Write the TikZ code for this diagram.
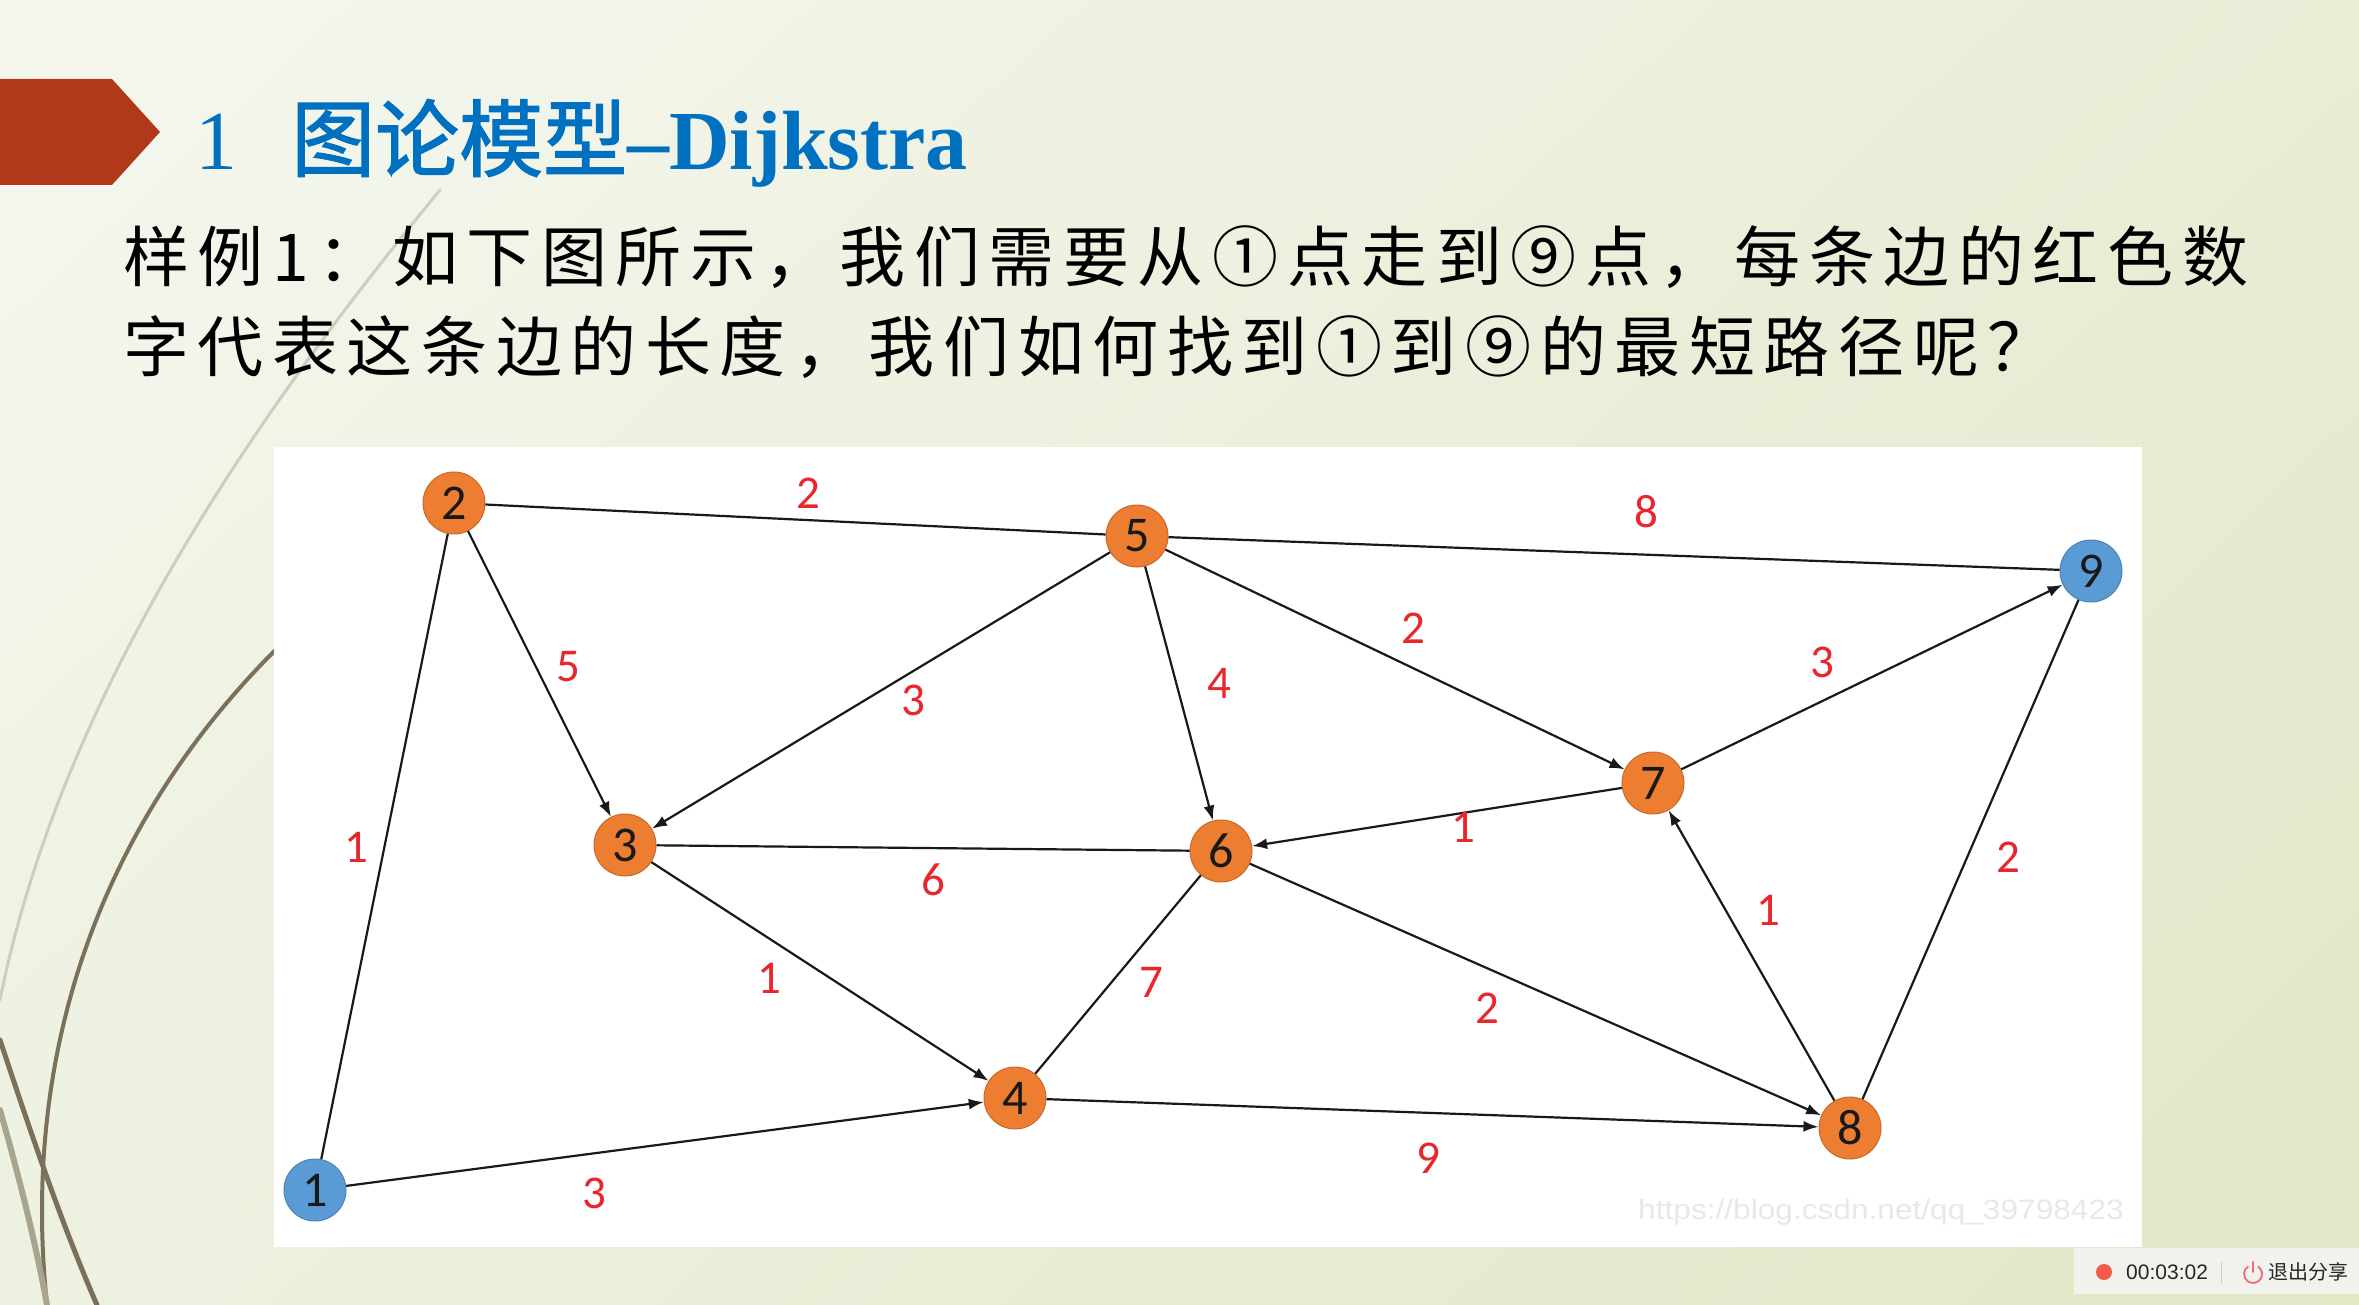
\documentclass[tikz,border=0pt]{standalone}
\usepackage{fontspec}
\setmainfont{Liberation Serif}
\newfontfamily\cjk{Noto Sans CJK SC}
\newfontfamily\cjktitle[FakeBold=1.6]{Noto Sans CJK SC}
\newfontfamily\cjkbody[LetterSpace=13]{Noto Sans CJK SC}
\newfontfamily\calib{Carlito}
\newfontfamily\arialf{Liberation Sans}
\usetikzlibrary{arrows.meta,shadings}

\definecolor{bgUL}{HTML}{F5F7EF}
\definecolor{bgUR}{HTML}{E8EDD6}
\definecolor{bgLL}{HTML}{EDF1E0}
\definecolor{bgLR}{HTML}{E0E8C6}
\definecolor{rust}{HTML}{B0391A}
\definecolor{titleblue}{HTML}{0070C0}
\definecolor{nodeorange}{HTML}{ED7D31}
\definecolor{nodeblue}{HTML}{5B9BD5}
\definecolor{labred}{HTML}{E8262B}
\definecolor{wispdark}{HTML}{7B705A}
\definecolor{wisplight}{HTML}{CACFC0}
\definecolor{wispmid}{HTML}{A8A48E}
\definecolor{barbg}{HTML}{F1F2EE}
\definecolor{recred}{HTML}{F25A4A}
\definecolor{pwpink}{HTML}{F06A7A}

\begin{document}
\begin{tikzpicture}[x=1pt,y=-1pt,
  vert/.style={circle, minimum size=62pt, inner sep=0pt, line width=1pt,
    font=\calib\fontsize{50}{50}\selectfont, text=black!90},
  orng/.style={vert, fill=nodeorange, draw=nodeorange!85!black},
  blu/.style={vert, fill=nodeblue, draw=nodeblue!85!black},
  link/.style={line width=2.2pt, draw=black!90},
  dlink/.style={link, -{Latex[length=15pt,width=11pt]}},
  wlab/.style={text=labred, font=\calib\fontsize{47}{47}\selectfont, inner sep=0pt},
  wisp/.style={line cap=round},
]
\useasboundingbox (0,0) rectangle (2359,1305);

% slide background
\shade[upper left=bgUL, upper right=bgUR, lower left=bgLL, lower right=bgLR]
  (0,0) rectangle (2359,1305);

% theme curves on the left
\draw[wisp, wisplight, line width=3pt] (440,190) .. controls (250,420) and (60,700) .. (0,1000);
\draw[wisp, wispdark, line width=4pt] (330,600) .. controls (140,760) and (15,1000) .. (47,1305);
\draw[wisp, wispdark, line width=5pt] (0,1040) .. controls (30,1130) and (60,1220) .. (97,1305);
\draw[wisp, wispmid, line width=6pt] (0,1110) .. controls (20,1180) and (35,1240) .. (47,1305);

% graph panel
\fill[white] (274,447) rectangle (2142,1247);

% title marker
\fill[rust] (0,79) -- (112,79) -- (160,132) -- (112,185) -- (0,185) -- cycle;

% title and question
\node[anchor=base west, inner sep=0pt, text=titleblue,
  font=\fontsize{84}{84}\selectfont] (title) at (195,170)
  {1\hspace{54pt}{\cjktitle 图论模型}\textbf{–Dijkstra}};
\node[anchor=base west, inner sep=0pt, font=\cjkbody\fontsize{66}{66}\selectfont]
  (line1) at (123,282) {样例1：如下图所示，我们需要从①点走到⑨点，每条边的红色数};
\node[anchor=base west, inner sep=0pt, font=\cjkbody\fontsize{66}{66}\selectfont]
  (line2) at (123,372) {字代表这条边的长度，我们如何找到①到⑨的最短路径呢？};

% vertices
\node[blu]  (n1) at (315,1190) {1};
\node[orng] (n2) at (454,503)  {2};
\node[orng] (n3) at (625,845)  {3};
\node[orng] (n4) at (1015,1098) {4};
\node[orng] (n5) at (1137,536) {5};
\node[orng] (n6) at (1221,851) {6};
\node[orng] (n7) at (1653,783) {7};
\node[orng] (n8) at (1850,1128) {8};
\node[blu]  (n9) at (2091,571) {9};

% edges
\draw[link]  (n1) -- (n2);
\draw[link]  (n2) -- (n5);
\draw[dlink] (n2) -- (n3);
\draw[dlink] (n5) -- (n3);
\draw[dlink] (n5) -- (n6);
\draw[dlink] (n5) -- (n7);
\draw[link]  (n5) -- (n9);
\draw[dlink] (n7) -- (n9);
\draw[dlink] (n7) -- (n6);
\draw[link]  (n3) -- (n6);
\draw[dlink] (n3) -- (n4);
\draw[dlink] (n1) -- (n4);
\draw[link]  (n4) -- (n6);
\draw[dlink] (n6) -- (n8);
\draw[dlink] (n4) -- (n8);
\draw[dlink] (n8) -- (n7);
\draw[link]  (n9) -- (n8);

% edge weights
\node[wlab] (w12) at (356,847)  {1};
\node[wlab] (w25) at (808,493)  {2};
\node[wlab] (w23) at (568,667)  {5};
\node[wlab] (w53) at (913,700)  {3};
\node[wlab] (w56) at (1219,683) {4};
\node[wlab] (w57) at (1413,628) {2};
\node[wlab] (w59) at (1646,512) {8};
\node[wlab] (w79) at (1822,662) {3};
\node[wlab] (w76) at (1463,827) {1};
\node[wlab] (w36) at (933,880)  {6};
\node[wlab] (w34) at (769,978)  {1};
\node[wlab] (w46) at (1151,982) {7};
\node[wlab] (w68) at (1487,1008) {2};
\node[wlab] (w87) at (1768,910) {1};
\node[wlab] (w98) at (2008,857) {2};
\node[wlab] (w14) at (594,1193) {3};
\node[wlab] (w48) at (1428,1158) {9};

% source watermark
\node[anchor=base west, inner sep=0pt, text=black!9, xscale=1.13,
  font=\arialf\fontsize{28}{28}\selectfont] (mark) at (1638,1219)
  {https://blog.csdn.net/qq\_39798423};

% recording toolbar
\fill[barbg] (2074,1248) rectangle (2359,1294);
\fill[recred] (2104,1272) circle[radius=8];
\node[anchor=west, inner sep=0pt, text=black!85,
  font=\arialf\fontsize{21}{21}\selectfont] (timer) at (2126,1272) {00:03:02};
\draw[black!20, line width=1pt] (2221,1262) -- (2221,1284);
\draw[pwpink, line width=1.8pt, line cap=round] (2253,1262) -- (2253,1272);
\draw[pwpink, line width=1.8pt, line cap=round]
  ([shift={(-55:9)}]2253,1274) arc[start angle=-55, end angle=235, radius=9];
\node[anchor=west, inner sep=0pt, text=black!85,
  font=\cjk\fontsize{20}{20}\selectfont] (quit) at (2268,1272) {退出分享};
\end{tikzpicture}
\end{document}
